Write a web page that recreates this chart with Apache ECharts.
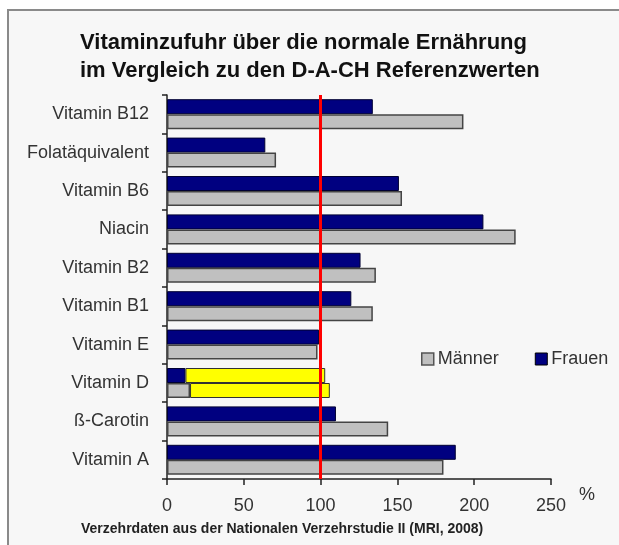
<!DOCTYPE html>
<html>
<head>
<meta charset="utf-8">
<script src="https://cdn.jsdelivr.net/npm/echarts@6/dist/echarts.min.js"></script>
<style>
    html, body { margin: 0; padding: 0; background: #fff; }
    #chart { width: 619px; height: 545px; }
</style>
</head>
<body>
<div id="chart"></div>
<script>
    // Kategorien von oben nach unten
    const categories = ['Vitamin B12', 'Folatäquivalent', 'Vitamin B6', 'Niacin', 'Vitamin B2',
        'Vitamin B1', 'Vitamin E', 'Vitamin D', 'ß-Carotin', 'Vitamin A'];
    const frauen = [134, 64, 151, 206, 126, 120, 99, 12, 110, 188];
    const maenner = [193, 71, 153, 227, 136, 134, 98, 15, 144, 180];
    // gelber Aufsatz bei Vitamin D (bis ca. 103 bzw. 106 %)
    const frauenExtra = ['-', '-', '-', '-', '-', '-', '-', 91, '-', '-'];
    const maennerExtra = ['-', '-', '-', '-', '-', '-', '-', 91, '-', '-'];
    const xTicks = [0, 50, 100, 150, 200, 250];
    const referenz = 100;

    const font = 'Liberation Sans, Arial, sans-serif';
    const chart = echarts.init(document.getElementById('chart'));

    const option = {
        animation: false,
        backgroundColor: '#fff',
        textStyle: { fontFamily: font },
        graphic: [
            {
                type: 'rect', z: -10, silent: true,
                shape: { x: 8, y: 10, width: 640, height: 560 },
                style: { fill: '#f7f7f7', stroke: '#8a8a8a', lineWidth: 2 }
            },
            {
                type: 'text', left: 80, top: 29,
                style: {
                    text: 'Vitaminzufuhr über die normale Ernährung\nim Vergleich zu den D-A-CH Referenzwerten',
                    font: 'bold 22px ' + font, fill: '#111', lineHeight: 28
                }
            },
            {
                type: 'text', left: 579, top: 486,
                style: { text: '%', font: '18px ' + font, fill: '#333' }
            },
            {
                type: 'text', left: 81, top: 522,
                style: {
                    text: 'Verzehrdaten aus der Nationalen Verzehrstudie II (MRI, 2008)',
                    font: 'bold 14px ' + font, fill: '#222'
                }
            }
        ],
        legend: {
            data: [
                { name: 'Männer', itemStyle: { color: '#c0c0c0', borderColor: '#555', borderWidth: 1.5 } },
                { name: 'Frauen', itemStyle: { color: '#000080', borderColor: '#000', borderWidth: 1 } }
            ],
            left: 416, top: 345,
            itemWidth: 12, itemHeight: 12, itemGap: 36,
            icon: 'rect',
            textStyle: { fontSize: 18, color: '#333', fontFamily: font, padding: [0, 0, 0, -1] }
        },
        grid: { left: 167, right: 68, top: 95, bottom: 66 },
        xAxis: {
            type: 'value',
            min: 0, max: 250, interval: 50,
            axisLine: { show: true, lineStyle: { color: '#222', width: 1.5 } },
            axisTick: { show: true, length: 6, lineStyle: { color: '#222', width: 1.5 } },
            axisLabel: {
                fontSize: 18, color: '#333', margin: 18,
                formatter: v => xTicks.includes(v) ? String(v) : ''
            },
            splitLine: { show: false }
        },
        yAxis: {
            type: 'category',
            data: categories,
            inverse: true,
            axisLine: { show: true, lineStyle: { color: '#222', width: 1.5 } },
            axisTick: { show: true, length: 5, lineStyle: { color: '#222', width: 1.5 } },
            axisLabel: { fontSize: 18, color: '#333', margin: 18 }
        },
        series: [
            {
                name: 'Frauen', type: 'bar', stack: 'f', data: frauen,
                barWidth: 15, barGap: '0%',
                itemStyle: { color: '#000080', borderColor: '#000033', borderWidth: 1 },
                markLine: {
                    silent: true, symbol: 'none', label: { show: false },
                    lineStyle: { color: '#ff0000', width: 3, type: 'solid' },
                    data: [{ xAxis: referenz }],
                    z: 10
                }
            },
            {
                name: 'FrauenExtra', type: 'bar', stack: 'f', data: frauenExtra,
                barWidth: 15,
                itemStyle: { color: '#ffff00', borderColor: '#333', borderWidth: 1 }
            },
            {
                name: 'Männer', type: 'bar', stack: 'm', data: maenner,
                barWidth: 15,
                itemStyle: { color: '#c0c0c0', borderColor: '#444', borderWidth: 1.5 }
            },
            {
                name: 'MännerExtra', type: 'bar', stack: 'm', data: maennerExtra,
                barWidth: 15,
                itemStyle: { color: '#ffff00', borderColor: '#333', borderWidth: 1 }
            }
        ]
    };

    chart.setOption(option);
</script>
</body>
</html>
